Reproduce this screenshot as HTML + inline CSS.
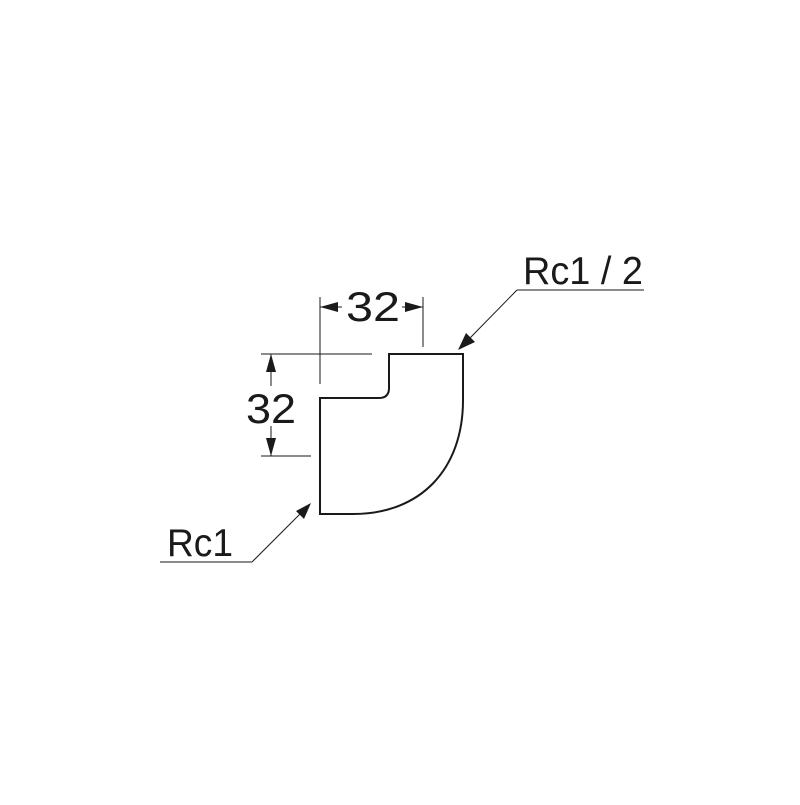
<!DOCTYPE html>
<html><head><meta charset="utf-8"><style>html,body{margin:0;padding:0;background:#fff}</style></head><body>
<svg width="800" height="800" viewBox="0 0 800 800" xmlns="http://www.w3.org/2000/svg">
<rect width="800" height="800" fill="#fff"/>
<g fill="none" stroke="#1a1a1a">
<path d="M320,514 L353,514 C420,514 463,470 463,400 L463,354 L389,354 L389,388 Q389,398 379,398 L320,398 Z" stroke-width="2"/>
<g stroke-width="1">
<line x1="320" y1="297" x2="320" y2="384"/>
<line x1="423" y1="297" x2="423" y2="347"/>
<line x1="320" y1="307" x2="342" y2="307"/>
<line x1="402" y1="307" x2="423" y2="307"/>
<line x1="261" y1="354" x2="372" y2="354"/>
<line x1="261" y1="456" x2="311" y2="456"/>
<line x1="271" y1="354" x2="271" y2="386"/>
<line x1="271" y1="426" x2="271" y2="456"/>
<line x1="517" y1="290" x2="644" y2="290"/>
<line x1="517" y1="290" x2="470" y2="338"/>
<line x1="160" y1="562" x2="252" y2="562"/>
<line x1="252" y1="562" x2="300" y2="514"/>
</g>
</g>
<g fill="#1a1a1a">
<polygon points="320,307 338,302 338,312"/>
<polygon points="423,307 405,302 405,312"/>
<polygon points="271,354 266,372 276,372"/>
<polygon points="271,456 266,438 276,438"/>
<polygon points="458,350 466,333 475,342"/>
<polygon points="311,503 296,511 304,519"/>
</g>
<g font-family="Liberation Sans, sans-serif" fill="#1a1a1a" font-size="42">
<text x="346" y="321" textLength="54" lengthAdjust="spacingAndGlyphs">32</text>
<text x="246" y="423" textLength="50" lengthAdjust="spacingAndGlyphs">32</text>
<text x="523" y="284" font-size="39" textLength="120" lengthAdjust="spacingAndGlyphs">Rc1 / 2</text>
<text x="167" y="556" font-size="39" textLength="66" lengthAdjust="spacingAndGlyphs">Rc1</text>
</g>
</svg>
</body></html>
